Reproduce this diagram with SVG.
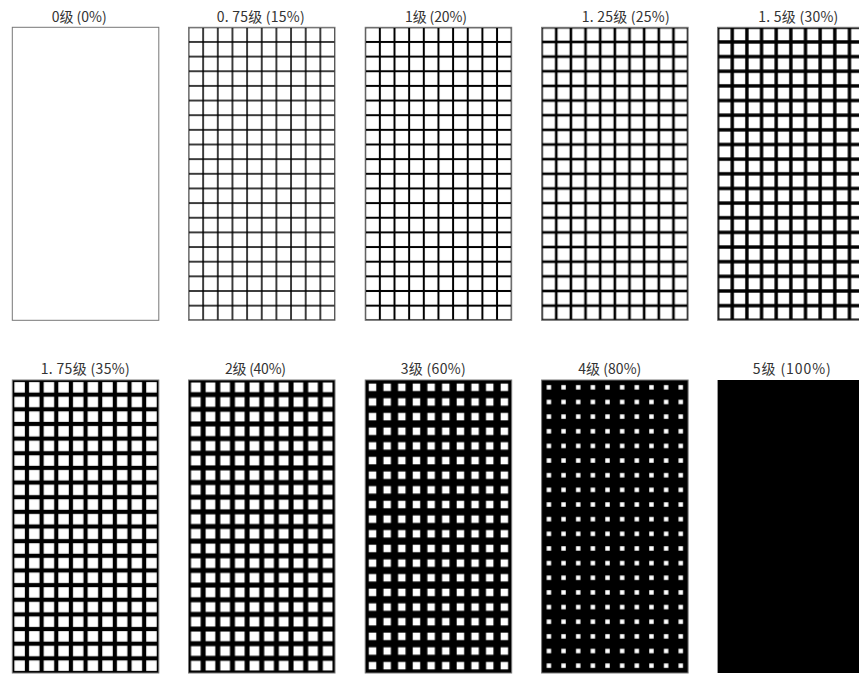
<svg xmlns="http://www.w3.org/2000/svg" width="859" height="675" viewBox="0 0 859 675">
<style>
text{font-family:"Noto Sans CJK SC","Noto Sans",sans-serif;font-size:14px;fill:#333}
.b{stroke:#777;stroke-width:1;fill:none}
</style>
<defs>
<pattern id="p2" patternUnits="userSpaceOnUse" x="188.5" y="27.3" width="14.65" height="14.65"><rect width="14.65" height="14.65" fill="#000"/><rect x="0.75" y="0.75" width="13.15" height="13.15" fill="#fff"/></pattern>
<pattern id="p3" patternUnits="userSpaceOnUse" x="365.2" y="27.3" width="14.65" height="14.65"><rect width="14.65" height="14.65" fill="#000"/><rect x="1" y="1" width="12.65" height="12.65" fill="#fff"/></pattern>
<pattern id="p4" patternUnits="userSpaceOnUse" x="541.6" y="27.3" width="14.65" height="14.65"><rect width="14.65" height="14.65" fill="#000"/><rect x="1.3" y="1.3" width="12.05" height="12.05" fill="#fff"/></pattern>
<pattern id="p5" patternUnits="userSpaceOnUse" x="717.6" y="27.3" width="14.65" height="14.65"><rect width="14.65" height="14.65" fill="#000"/><rect x="1.7" y="1.7" width="11.25" height="11.25" fill="#fff"/></pattern>
<pattern id="p6" patternUnits="userSpaceOnUse" x="12.3" y="380" width="14.65" height="14.65"><rect width="14.65" height="14.65" fill="#000"/><rect x="2.1" y="2.1" width="10.45" height="10.45" fill="#fff"/></pattern>
<pattern id="p7" patternUnits="userSpaceOnUse" x="188.5" y="380" width="14.65" height="14.65"><rect width="14.65" height="14.65" fill="#000"/><rect x="2.5" y="2.5" width="9.65" height="9.65" fill="#fff"/></pattern>
<pattern id="p8" patternUnits="userSpaceOnUse" x="365.2" y="380" width="14.65" height="14.65"><rect width="14.65" height="14.65" fill="#000"/><rect x="3.6" y="3.6" width="7.45" height="7.45" fill="#fff"/></pattern>
<pattern id="p9" patternUnits="userSpaceOnUse" x="541.6" y="380" width="14.65" height="14.65"><rect width="14.65" height="14.65" fill="#000"/><rect x="5.1" y="5.1" width="4.45" height="4.45" fill="#fff"/></pattern>
</defs>
<rect width="859" height="675" fill="#fff"/>
<g id="g0"><text x="51.7" y="21.5" textLength="55" lengthAdjust="spacing">0级 (0%)</text><rect class="b" x="12.3" y="27.3" width="146.5" height="293" fill="#fff"/></g>
<g id="g075"><text x="216.7" y="21.5" textLength="88" lengthAdjust="spacing">0. 75级 (15%)</text><rect x="188.5" y="27.3" width="146.5" height="293" fill="url(#p2)"/><rect class="b" x="188.5" y="27.3" width="146.5" height="293"/></g>
<g id="g1"><text x="405" y="21.5" textLength="62" lengthAdjust="spacing">1级 (20%)</text><rect x="365.2" y="27.3" width="146.5" height="293" fill="url(#p3)"/><rect class="b" x="365.2" y="27.3" width="146.5" height="293"/></g>
<g id="g125"><text x="581.7" y="21.5" textLength="88" lengthAdjust="spacing">1. 25级 (25%)</text><rect x="541.6" y="27.3" width="146.5" height="293" fill="url(#p4)"/><rect class="b" x="541.6" y="27.3" width="146.5" height="293"/></g>
<g id="g15"><text x="758.3" y="21.5" textLength="80" lengthAdjust="spacing">1. 5级 (30%)</text><rect x="717.6" y="27.3" width="146.5" height="293" fill="url(#p5)"/><rect class="b" x="717.6" y="27.3" width="146.5" height="293"/></g>
<g id="g175"><text x="40.7" y="374.3" textLength="89" lengthAdjust="spacing">1. 75级 (35%)</text><rect x="12.3" y="380" width="146.5" height="293" fill="url(#p6)"/><rect class="b" x="12.3" y="380" width="146.5" height="293"/></g>
<g id="g2"><text x="225" y="374.3" textLength="61" lengthAdjust="spacing">2级 (40%)</text><rect x="188.5" y="380" width="146.5" height="293" fill="url(#p7)"/><rect class="b" x="188.5" y="380" width="146.5" height="293"/></g>
<g id="g3"><text x="400.7" y="374.3" textLength="65" lengthAdjust="spacing">3级 (60%)</text><rect x="365.2" y="380" width="146.5" height="293" fill="url(#p8)"/><rect class="b" x="365.2" y="380" width="146.5" height="293"/></g>
<g id="g4"><text x="578.3" y="374.3" textLength="63" lengthAdjust="spacing">4级 (80%)</text><rect x="541.6" y="380" width="146.5" height="293" fill="url(#p9)"/><rect class="b" x="541.6" y="380" width="146.5" height="293"/></g>
<g id="g5"><text x="752.7" y="374.3" textLength="78" lengthAdjust="spacing">5级 (100%)</text><rect x="717.6" y="380" width="146.5" height="293" fill="#000"/></g>
<g id="connectors"/>
</svg>
